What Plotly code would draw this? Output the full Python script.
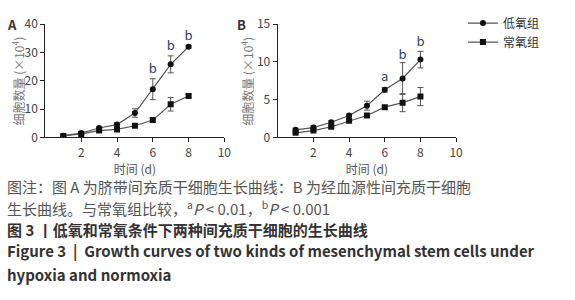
import plotly.graph_objects as go

days = [1, 2, 3, 4, 5, 6, 7, 8]

# Panel A (umbilical cord MSC), x10^4
a_hyp = [0.6, 1.5, 3.3, 4.5, 8.6, 17.0, 25.8, 32.0]
a_hyp_err = [0.3, 0.4, 0.5, 0.6, 1.5, 3.7, 3.0, 0.5]
a_nor = [0.5, 1.2, 2.4, 2.8, 4.1, 6.1, 11.7, 14.6]
a_nor_err = [0.2, 0.3, 0.4, 0.4, 0.5, 0.8, 2.4, 0.5]

# Panel B (blood-derived MSC), x10^4
b_hyp = [1.0, 1.3, 2.0, 2.9, 4.2, 6.3, 7.8, 10.3]
b_hyp_err = [0.2, 0.2, 0.2, 0.2, 0.6, 0.3, 2.1, 1.1]
b_nor = [0.6, 0.9, 1.4, 2.2, 2.9, 4.0, 4.6, 5.4]
b_nor_err = [0.1, 0.1, 0.2, 0.2, 0.2, 0.2, 1.2, 1.2]

series_names = ["低氧组", "常氧组"]

# significance marks
a_sig_x = [6, 7, 8]
a_sig_y = [24.0, 32.0, 35.5]
a_sig_t = ["b", "b", "b"]
b_sig_x = [6, 7, 8]
b_sig_y = [7.9, 10.8, 12.6]
b_sig_t = ["a", "b", "b"]

x_ticks = [2, 4, 6, 8, 10]
a_y_ticks = [0, 10, 20, 30, 40]
b_y_ticks = [0, 5, 10, 15]

y_title = "细胞数量 (×10<sup>4</sup>)"
x_title = "时间 (d)"

caption_lines = [
    "图注：图 A 为脐带间充质干细胞生长曲线：B 为经血源性间充质干细胞",
    "生长曲线。与常氧组比较，<sup>a</sup><i>P</i> < 0.01，<sup>b</sup><i>P</i> < 0.001",
    "<b>图 3 丨低氧和常氧条件下两种间充质干细胞的生长曲线</b>",
    "<b>Figure 3  |  Growth curves of two kinds of mesenchymal stem cells under</b>",
    "<b>hypoxia and normoxia</b>",
]

FONT = "Noto Sans CJK SC, Noto Sans, sans-serif"
LINE_C = "#555555"
MARK_C = "#111111"
SIG_C = "#2e3b6e"

fig = go.Figure()

def add_series(y, err, xa, ya, symbol, name, show):
    fig.add_trace(go.Scatter(
        x=days, y=y, xaxis=xa, yaxis=ya, mode="lines+markers", name=name,
        showlegend=show,
        line=dict(color=LINE_C, width=1.2),
        marker=dict(symbol=symbol, size=6, color=MARK_C),
        error_y=dict(type="data", array=err, color=LINE_C, thickness=1, width=3),
    ))

add_series(a_hyp, a_hyp_err, "x", "y", "circle", series_names[0], True)
add_series(a_nor, a_nor_err, "x", "y", "square", series_names[1], True)
add_series(b_hyp, b_hyp_err, "x2", "y2", "circle", series_names[0], False)
add_series(b_nor, b_nor_err, "x2", "y2", "square", series_names[1], False)

fig.add_trace(go.Scatter(x=a_sig_x, y=a_sig_y, text=a_sig_t, mode="text", xaxis="x", yaxis="y",
                         showlegend=False, textfont=dict(color=SIG_C, size=13, family=FONT)))
fig.add_trace(go.Scatter(x=b_sig_x, y=b_sig_y, text=b_sig_t, mode="text", xaxis="x2", yaxis="y2",
                         showlegend=False, textfont=dict(color=SIG_C, size=13, family=FONT)))

axis_common = dict(showline=True, linecolor="#222222", linewidth=1.2, ticks="outside",
                   ticklen=4, tickcolor="#222222", showgrid=False, zeroline=False,
                   tickfont=dict(size=12, color="#444444", family=FONT))

fig.update_layout(
    width=575, height=300,
    margin=dict(l=0, r=0, t=0, b=0),
    paper_bgcolor="white", plot_bgcolor="white",
    font=dict(family=FONT, color="#444444"),
    xaxis=dict(domain=[0.080, 0.395], range=[0, 10], tickvals=x_ticks, anchor="y",
               title=dict(text=x_title, font=dict(size=12, color="#555555"), standoff=1),
               **axis_common),
    yaxis=dict(domain=[0.55, 0.95], range=[0, 40], tickvals=a_y_ticks, anchor="x",
               **axis_common),
    xaxis2=dict(domain=[0.489, 0.803], range=[0, 10], tickvals=x_ticks, anchor="y2",
                title=dict(text=x_title, font=dict(size=12, color="#555555"), standoff=1),
                **axis_common),
    yaxis2=dict(domain=[0.55, 0.95], range=[0, 15], tickvals=b_y_ticks, anchor="x2",
                **axis_common),
    legend=dict(x=0.815, y=1.005, xanchor="left", yanchor="top", bgcolor="rgba(0,0,0,0)",
                font=dict(size=12, color="#333333", family=FONT), itemwidth=30,
                tracegroupgap=0),
)

# y-axis titles (rotated), placed close to the tick labels like the reference
for xp in (18 / 575, 250 / 575):
    fig.add_annotation(x=xp, y=0.75, xref="paper", yref="paper", text=y_title, showarrow=False,
                       textangle=-90, xanchor="center", yanchor="middle",
                       font=dict(size=12, color="#777777", family=FONT))

fig.add_annotation(x=0.021, y=0.95, xref="paper", yref="paper", text="<b>A</b>", showarrow=False,
                   font=dict(size=13, color="#333333", family=FONT), xanchor="center", yanchor="middle")
fig.add_annotation(x=0.426, y=0.95, xref="paper", yref="paper", text="<b>B</b>", showarrow=False,
                   font=dict(size=13, color="#333333", family=FONT), xanchor="center", yanchor="middle")

cap_y = [187, 210, 233, 256, 280]
cap_colors = ["#555555", "#555555", "#333333", "#333333", "#333333"]
for txt, py, c in zip(caption_lines, cap_y, cap_colors):
    fig.add_annotation(x=0.008, y=1 - py / 300, xref="paper", yref="paper", text=txt, showarrow=False,
                       xanchor="left", yanchor="middle", font=dict(size=15, color=c, family=FONT))

fig.write_html("out.html", config={"displayModeBar": False},
               post_script="document.body.style.margin='0';")
